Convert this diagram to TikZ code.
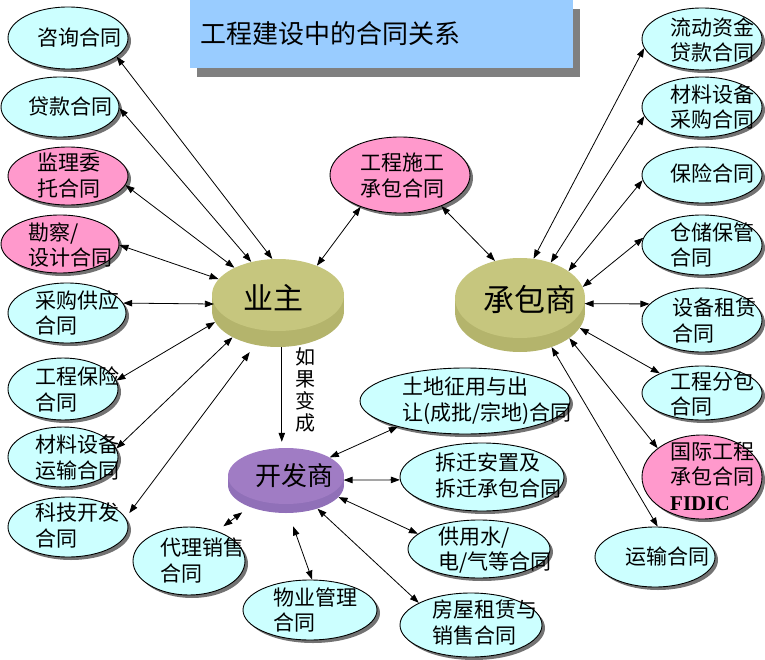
\documentclass[tikz,border=0pt]{standalone}
\usepackage{fontspec}
\setmainfont{Liberation Serif}
\newfontfamily\cjk{Noto Sans CJK SC}
\usetikzlibrary{shapes.geometric,arrows.meta,shadows}
\definecolor{cyanfill}{HTML}{CCFFFF}
\definecolor{pinkfill}{HTML}{FF99CC}
\definecolor{titleblue}{HTML}{99CCFF}
\definecolor{titleshadow}{HTML}{808080}
\definecolor{oliveface}{HTML}{C6C67E}
\definecolor{oliveside}{HTML}{B4B46C}
\definecolor{purpface}{HTML}{A07CC4}
\definecolor{purpside}{HTML}{9070B8}
\tikzset{
  ell/.style={ellipse, draw=black, line width=0.9pt, inner sep=0pt,
    drop shadow={shadow xshift=3pt, shadow yshift=-3pt, fill=black!55, opacity=1}},
  cy/.style={ell, fill=cyanfill},
  pk/.style={ell, fill=pinkfill},
  disc/.style={ellipse, inner sep=0pt, draw=none},
  lbl/.style={font=\cjk\fontsize{21}{25.5}\selectfont, align=left, anchor=west, inner sep=0pt},
  big/.style={font=\cjk\fontsize{#1}{#1}\selectfont, inner sep=0pt},
  tipA/.tip={Triangle[length=9pt,width=6.5pt]},
  rel/.style={line width=0.8pt, tipA-tipA},
  one/.style={line width=0.8pt, -tipA},
}
\begin{document}
\begin{tikzpicture}[x=1pt,y=-1pt]
\useasboundingbox (0,0) rectangle (765,660);

% title
\node[fill=titleblue, minimum width=383pt, minimum height=68pt, text width=363pt,
  inner xsep=10pt, inner ysep=0pt, align=left,
  font=\cjk\fontsize{26}{30}\selectfont,
  drop shadow={shadow xshift=7pt, shadow yshift=-9pt, fill=titleshadow, opacity=1}]
  (title) at (381.5,34) {工程建设中的合同关系};

% central discs
\node[disc, minimum width=132pt, minimum height=72pt, fill=oliveside] (yezhuB) at (278,311) {};
\fill[oliveside] (212,295) rectangle (344,311);
\node[disc, minimum width=132pt, minimum height=72pt, fill=oliveface] (yezhu) at (278,295) {};
\node[big=30] (yezhuT) at (273,298) {业主};

\node[disc, minimum width=130pt, minimum height=80pt, fill=oliveside] (chengbaoB) at (520,312) {};
\fill[oliveside] (455,298) rectangle (585,312);
\node[disc, minimum width=130pt, minimum height=80pt, fill=oliveface] (chengbao) at (520,298) {};
\node[big=31] (chengbaoT) at (530,300) {承包商};

\node[disc, minimum width=116pt, minimum height=56pt, fill=purpside] (kaifaB) at (286,485) {};
\fill[purpside] (228,476) rectangle (344,485);
\node[disc, minimum width=116pt, minimum height=56pt, fill=purpface] (kaifa) at (286,476) {};
\node[big=26] (kaifaT) at (294,476) {开发商};

\node[font=\cjk\fontsize{20}{21.7}\selectfont, align=center, inner sep=0pt] (rugu) at (305,390) {如\\果\\变\\成};

% top centre
\node[pk, minimum width=140pt, minimum height=76pt] (shigong) at (400,175) {};
\node[lbl] (shigongT) at (360,175.5) {工程施工\\承包合同};

% left column
\node[cy, minimum width=120pt, minimum height=62pt] (zixun) at (68,38) {};
\node[lbl] (zixunT) at (37,37.5) {咨询合同};
\node[cy, minimum width=118pt, minimum height=60pt] (daikuan) at (60,107) {};
\node[lbl] (daikuanT) at (28,107) {贷款合同};
\node[pk, minimum width=120pt, minimum height=58pt] (jianli) at (68,176) {};
\node[lbl] (jianliT) at (37,175.5) {监理委\\托合同};
\node[pk, minimum width=118pt, minimum height=58pt] (kancha) at (60,244) {};
\node[lbl] (kanchaT) at (28,245) {勘察/\\设计合同};
\node[cy, minimum width=118pt, minimum height=60pt] (caigou) at (67,313) {};
\node[lbl] (caigouT) at (35,313) {采购供应\\合同};
\node[cy, minimum width=110pt, minimum height=62pt] (baoxian) at (63,389) {};
\node[lbl] (baoxianT) at (35,389.5) {工程保险\\合同};
\node[cy, minimum width=110pt, minimum height=60pt] (cailiao) at (63,457) {};
\node[lbl] (cailiaoT) at (35,457.5) {材料设备\\运输合同};
\node[cy, minimum width=120pt, minimum height=60pt] (keji) at (68,527) {};
\node[lbl] (kejiT) at (35,525.5) {科技开发\\合同};
\node[cy, minimum width=112pt, minimum height=68pt] (daili) at (189,561) {};
\node[lbl] (dailiT) at (160,560.5) {代理销售\\合同};

% developer contracts
\node[cy, minimum width=210pt, minimum height=66pt] (tudi) at (465,401) {};
\node[lbl] (tudiT) at (402,400.5) {土地征用与出\\让(成批/宗地)合同};
\node[cy, minimum width=164pt, minimum height=68pt] (chaiqian) at (482,477) {};
\node[lbl] (chaiqianT) at (435,475.5) {拆迁安置及\\拆迁承包合同};
\node[cy, minimum width=142pt, minimum height=58pt] (gongyong) at (479,549) {};
\node[lbl] (gongyongT) at (438,550) {供用水/\\电/气等合同};
\node[cy, minimum width=142pt, minimum height=64pt] (fangwu) at (471,625) {};
\node[lbl] (fangwuT) at (432,622.5) {房屋租赁与\\销售合同};
\node[cy, minimum width=134pt, minimum height=60pt] (wuye) at (310,610) {};
\node[lbl] (wuyeT) at (273,610) {物业管理\\合同};

% right column
\node[cy, minimum width=120pt, minimum height=62pt] (liudong) at (702,39) {};
\node[lbl] (liudongT) at (670,40) {流动资金\\贷款合同};
\node[cy, minimum width=120pt, minimum height=60pt] (cailiaoR) at (702,107) {};
\node[lbl] (cailiaoRT) at (670,107) {材料设备\\采购合同};
\node[cy, minimum width=120pt, minimum height=56pt] (baoxianR) at (702,175) {};
\node[lbl] (baoxianRT) at (670,173) {保险合同};
\node[cy, minimum width=120pt, minimum height=60pt] (cangchu) at (702,245) {};
\node[lbl] (cangchuT) at (670,245) {仓储保管\\合同};
\node[cy, minimum width=120pt, minimum height=64pt] (shebei) at (702,320) {};
\node[lbl] (shebeiT) at (672,320.5) {设备租赁\\合同};
\node[cy, minimum width=120pt, minimum height=54pt] (fenbao) at (702,393) {};
\node[lbl] (fenbaoT) at (670,394) {工程分包\\合同};
\node[pk, minimum width=120pt, minimum height=84pt] (fidic) at (702,477) {};
\node[lbl] (fidicT) at (670,476) {国际工程\\承包合同\\{\rmfamily\bfseries FIDIC}};
\node[cy, minimum width=120pt, minimum height=60pt] (yunshu) at (655,557) {};
\node[lbl] (yunshuT) at (625,557) {运输合同};

% connectors: owner
\draw[rel] (zixun.-21) -- (yezhu.99);
\draw[rel] (daikuan.-1) -- (yezhu.129);
\draw[rel] (jianli.-9) -- (yezhu.148);
\draw[rel] (kancha.-1) -- (yezhu.165);
\draw[rel] (caigou.10) -- (yezhu.188);
\draw[rel] (baoxian.9) -- (yezhuB.190);
\draw[rel] (cailiao.9) -- (yezhuB.210);
\draw[rel, shorten <=6pt, shorten >=9pt] (keji.9) -- (yezhuB.236);
\draw[rel] (shigong.219) -- (yezhu.37);
\draw[rel] (shigong.-37) -- (chengbao.124);
\draw[one, shorten >=6pt] (yezhuB.-84) -- (yezhuB.-84 |- kaifa.north);

% connectors: contractor
\draw[rel] (liudong.189) -- (chengbao.71);
\draw[rel] (cailiaoR.189) -- (chengbao.49);
\draw[rel] (baoxianR.185) -- (chengbao.29);
\draw[rel] (cangchu.173) -- (chengbao.10);
\draw[rel] (shebei.163) -- (chengbao.-5);
\draw[rel] (fenbao.155) -- (chengbaoB.-15);
\draw[rel] (fidic.147) -- (chengbaoB.-28);
\draw[rel] (yunshu.85) -- (chengbaoB.-48);

% connectors: developer
\draw[rel] (tudi.201) -- (kaifa.23);
\draw[rel] (chaiqian.182) -- (kaifa.-4);
\draw[rel] (gongyong.166) -- (kaifaB.-13);
\draw[rel] (fangwu.157) -- (kaifaB.-37);
\draw[rel, shorten <=14pt] (kaifaB.-85) -- (wuye.86);
\draw[rel, shorten <=8pt, shorten >=9pt] (daili.47) -- (kaifaB.211);
\end{tikzpicture}
\end{document}
